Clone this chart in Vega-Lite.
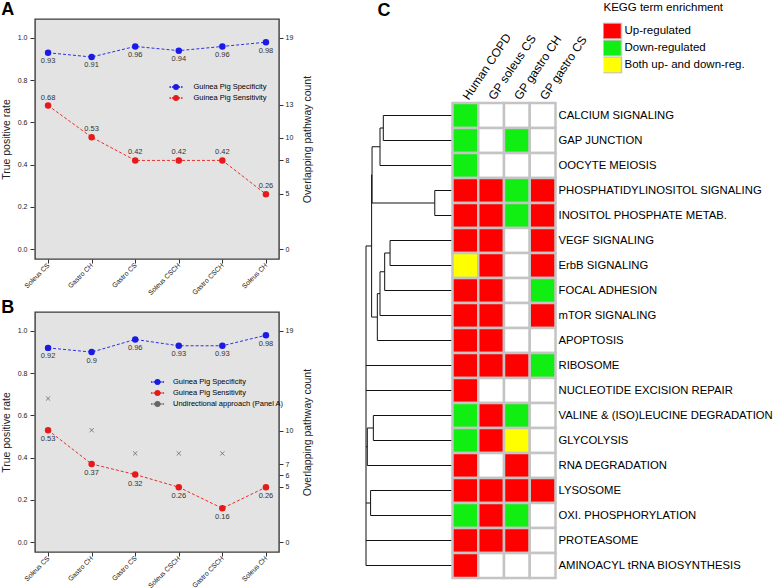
{
  "$schema": "https://vega.github.io/schema/vega-lite/v6.json",
  "background": "white",
  "padding": {"left": 0, "top": 0, "right": 0, "bottom": 0},
  "config": {
    "font": "Liberation Sans",
    "view": {"stroke": null},
    "axis": {"labelColor": "#222", "titleColor": "#222", "tickColor": "#333", "titleFontWeight": "normal", "grid": false},
    "title": {"color": "#000"}
  },
  "datasets": {
    "a": [
      {"cond": "Soleus CS", "s": "Guinea Pig Specificity", "v": 0.93},
      {"cond": "Gastro CH", "s": "Guinea Pig Specificity", "v": 0.91},
      {"cond": "Gastro CS", "s": "Guinea Pig Specificity", "v": 0.96},
      {"cond": "Soleus CSCH", "s": "Guinea Pig Specificity", "v": 0.94},
      {"cond": "Gastro CSCH", "s": "Guinea Pig Specificity", "v": 0.96},
      {"cond": "Soleus CH", "s": "Guinea Pig Specificity", "v": 0.98},
      {"cond": "Soleus CS", "s": "Guinea Pig Sensitivity", "v": 0.68},
      {"cond": "Gastro CH", "s": "Guinea Pig Sensitivity", "v": 0.53},
      {"cond": "Gastro CS", "s": "Guinea Pig Sensitivity", "v": 0.42},
      {"cond": "Soleus CSCH", "s": "Guinea Pig Sensitivity", "v": 0.42},
      {"cond": "Gastro CSCH", "s": "Guinea Pig Sensitivity", "v": 0.42},
      {"cond": "Soleus CH", "s": "Guinea Pig Sensitivity", "v": 0.26}
    ],
    "b": [
      {"cond": "Soleus CS", "s": "Guinea Pig Specificity", "v": 0.92},
      {"cond": "Gastro CH", "s": "Guinea Pig Specificity", "v": 0.9},
      {"cond": "Gastro CS", "s": "Guinea Pig Specificity", "v": 0.96},
      {"cond": "Soleus CSCH", "s": "Guinea Pig Specificity", "v": 0.93},
      {"cond": "Gastro CSCH", "s": "Guinea Pig Specificity", "v": 0.93},
      {"cond": "Soleus CH", "s": "Guinea Pig Specificity", "v": 0.98},
      {"cond": "Soleus CS", "s": "Guinea Pig Sensitivity", "v": 0.53},
      {"cond": "Gastro CH", "s": "Guinea Pig Sensitivity", "v": 0.37},
      {"cond": "Gastro CS", "s": "Guinea Pig Sensitivity", "v": 0.32},
      {"cond": "Soleus CSCH", "s": "Guinea Pig Sensitivity", "v": 0.26},
      {"cond": "Gastro CSCH", "s": "Guinea Pig Sensitivity", "v": 0.16},
      {"cond": "Soleus CH", "s": "Guinea Pig Sensitivity", "v": 0.26},
      {"cond": "Soleus CS", "s": "Undirectional approach (Panel A)", "v": 0.68},
      {"cond": "Gastro CH", "s": "Undirectional approach (Panel A)", "v": 0.53},
      {"cond": "Gastro CS", "s": "Undirectional approach (Panel A)", "v": 0.42},
      {"cond": "Soleus CSCH", "s": "Undirectional approach (Panel A)", "v": 0.42},
      {"cond": "Gastro CSCH", "s": "Undirectional approach (Panel A)", "v": 0.42},
      {"cond": "Soleus CH", "s": "Undirectional approach (Panel A)", "v": 0.26}
    ],
    "dendro": [
      {"h1": 0, "h2": 0.8, "r1": 0, "r2": 0},
      {"h1": 0, "h2": 0.8, "r1": 1, "r2": 1},
      {"h1": 0, "h2": 0.838, "r1": 2, "r2": 2},
      {"h1": 0, "h2": 0.205, "r1": 3, "r2": 3},
      {"h1": 0, "h2": 0.205, "r1": 4, "r2": 4},
      {"h1": 0, "h2": 0.722, "r1": 5, "r2": 5},
      {"h1": 0, "h2": 0.722, "r1": 6, "r2": 6},
      {"h1": 0, "h2": 0.784, "r1": 7, "r2": 7},
      {"h1": 0, "h2": 0.838, "r1": 8, "r2": 8},
      {"h1": 0, "h2": 0.869, "r1": 9, "r2": 9},
      {"h1": 0, "h2": 1, "r1": 10, "r2": 10},
      {"h1": 0, "h2": 1, "r1": 11, "r2": 11},
      {"h1": 0, "h2": 0.915, "r1": 12, "r2": 12},
      {"h1": 0, "h2": 0.915, "r1": 13, "r2": 13},
      {"h1": 0, "h2": 0.985, "r1": 14, "r2": 14},
      {"h1": 0, "h2": 0.947, "r1": 15, "r2": 15},
      {"h1": 0, "h2": 0.947, "r1": 16, "r2": 16},
      {"h1": 0, "h2": 1, "r1": 17, "r2": 17},
      {"h1": 0, "h2": 1, "r1": 18, "r2": 18},
      {"h1": 0.8, "h2": 0.838, "r1": 0.5, "r2": 0.5},
      {"h1": 0.838, "h2": 0.93, "r1": 1.25, "r2": 1.25},
      {"h1": 0.205, "h2": 0.93, "r1": 3.5, "r2": 3.5},
      {"h1": 0.93, "h2": 0.935, "r1": 2.375, "r2": 2.375},
      {"h1": 0.722, "h2": 0.784, "r1": 5.5, "r2": 5.5},
      {"h1": 0.784, "h2": 0.838, "r1": 6.25, "r2": 6.25},
      {"h1": 0.838, "h2": 0.869, "r1": 7.125, "r2": 7.125},
      {"h1": 0.869, "h2": 0.935, "r1": 8.0625, "r2": 8.0625},
      {"h1": 0.935, "h2": 1, "r1": 5.21875, "r2": 5.21875},
      {"h1": 0.915, "h2": 0.985, "r1": 12.5, "r2": 12.5},
      {"h1": 0.985, "h2": 1, "r1": 13.25, "r2": 13.25},
      {"h1": 0.947, "h2": 1, "r1": 15.5, "r2": 15.5},
      {"h1": 0.8, "h2": 0.8, "r1": 0, "r2": 1},
      {"h1": 0.838, "h2": 0.838, "r1": 0.5, "r2": 2},
      {"h1": 0.205, "h2": 0.205, "r1": 3, "r2": 4},
      {"h1": 0.93, "h2": 0.93, "r1": 1.25, "r2": 3.5},
      {"h1": 0.722, "h2": 0.722, "r1": 5, "r2": 6},
      {"h1": 0.784, "h2": 0.784, "r1": 5.5, "r2": 7},
      {"h1": 0.838, "h2": 0.838, "r1": 6.25, "r2": 8},
      {"h1": 0.869, "h2": 0.869, "r1": 7.125, "r2": 9},
      {"h1": 0.935, "h2": 0.935, "r1": 2.375, "r2": 8.0625},
      {"h1": 0.915, "h2": 0.915, "r1": 12, "r2": 13},
      {"h1": 0.985, "h2": 0.985, "r1": 12.5, "r2": 14},
      {"h1": 0.947, "h2": 0.947, "r1": 15, "r2": 16},
      {"h1": 1, "h2": 1, "r1": 5.21875, "r2": 18}
    ],
    "c": [
      {"p": "CALCIUM SIGNALING", "c": "Human COPD", "s": "D"},
      {"p": "CALCIUM SIGNALING", "c": "GP soleus CS", "s": "N"},
      {"p": "CALCIUM SIGNALING", "c": "GP gastro CH", "s": "N"},
      {"p": "CALCIUM SIGNALING", "c": "GP gastro CS", "s": "N"},
      {"p": "GAP JUNCTION", "c": "Human COPD", "s": "D"},
      {"p": "GAP JUNCTION", "c": "GP soleus CS", "s": "N"},
      {"p": "GAP JUNCTION", "c": "GP gastro CH", "s": "D"},
      {"p": "GAP JUNCTION", "c": "GP gastro CS", "s": "N"},
      {"p": "OOCYTE MEIOSIS", "c": "Human COPD", "s": "D"},
      {"p": "OOCYTE MEIOSIS", "c": "GP soleus CS", "s": "N"},
      {"p": "OOCYTE MEIOSIS", "c": "GP gastro CH", "s": "N"},
      {"p": "OOCYTE MEIOSIS", "c": "GP gastro CS", "s": "N"},
      {"p": "PHOSPHATIDYLINOSITOL SIGNALING", "c": "Human COPD", "s": "U"},
      {"p": "PHOSPHATIDYLINOSITOL SIGNALING", "c": "GP soleus CS", "s": "U"},
      {"p": "PHOSPHATIDYLINOSITOL SIGNALING", "c": "GP gastro CH", "s": "D"},
      {"p": "PHOSPHATIDYLINOSITOL SIGNALING", "c": "GP gastro CS", "s": "U"},
      {"p": "INOSITOL PHOSPHATE METAB.", "c": "Human COPD", "s": "U"},
      {"p": "INOSITOL PHOSPHATE METAB.", "c": "GP soleus CS", "s": "U"},
      {"p": "INOSITOL PHOSPHATE METAB.", "c": "GP gastro CH", "s": "D"},
      {"p": "INOSITOL PHOSPHATE METAB.", "c": "GP gastro CS", "s": "U"},
      {"p": "VEGF SIGNALING", "c": "Human COPD", "s": "U"},
      {"p": "VEGF SIGNALING", "c": "GP soleus CS", "s": "U"},
      {"p": "VEGF SIGNALING", "c": "GP gastro CH", "s": "N"},
      {"p": "VEGF SIGNALING", "c": "GP gastro CS", "s": "U"},
      {"p": "ErbB SIGNALING", "c": "Human COPD", "s": "B"},
      {"p": "ErbB SIGNALING", "c": "GP soleus CS", "s": "U"},
      {"p": "ErbB SIGNALING", "c": "GP gastro CH", "s": "N"},
      {"p": "ErbB SIGNALING", "c": "GP gastro CS", "s": "U"},
      {"p": "FOCAL ADHESION", "c": "Human COPD", "s": "U"},
      {"p": "FOCAL ADHESION", "c": "GP soleus CS", "s": "U"},
      {"p": "FOCAL ADHESION", "c": "GP gastro CH", "s": "N"},
      {"p": "FOCAL ADHESION", "c": "GP gastro CS", "s": "D"},
      {"p": "mTOR SIGNALING", "c": "Human COPD", "s": "U"},
      {"p": "mTOR SIGNALING", "c": "GP soleus CS", "s": "U"},
      {"p": "mTOR SIGNALING", "c": "GP gastro CH", "s": "N"},
      {"p": "mTOR SIGNALING", "c": "GP gastro CS", "s": "U"},
      {"p": "APOPTOSIS", "c": "Human COPD", "s": "U"},
      {"p": "APOPTOSIS", "c": "GP soleus CS", "s": "U"},
      {"p": "APOPTOSIS", "c": "GP gastro CH", "s": "N"},
      {"p": "APOPTOSIS", "c": "GP gastro CS", "s": "N"},
      {"p": "RIBOSOME", "c": "Human COPD", "s": "U"},
      {"p": "RIBOSOME", "c": "GP soleus CS", "s": "U"},
      {"p": "RIBOSOME", "c": "GP gastro CH", "s": "U"},
      {"p": "RIBOSOME", "c": "GP gastro CS", "s": "D"},
      {"p": "NUCLEOTIDE EXCISION REPAIR", "c": "Human COPD", "s": "U"},
      {"p": "NUCLEOTIDE EXCISION REPAIR", "c": "GP soleus CS", "s": "N"},
      {"p": "NUCLEOTIDE EXCISION REPAIR", "c": "GP gastro CH", "s": "N"},
      {"p": "NUCLEOTIDE EXCISION REPAIR", "c": "GP gastro CS", "s": "N"},
      {"p": "VALINE & (ISO)LEUCINE DEGRADATION", "c": "Human COPD", "s": "D"},
      {"p": "VALINE & (ISO)LEUCINE DEGRADATION", "c": "GP soleus CS", "s": "U"},
      {"p": "VALINE & (ISO)LEUCINE DEGRADATION", "c": "GP gastro CH", "s": "D"},
      {"p": "VALINE & (ISO)LEUCINE DEGRADATION", "c": "GP gastro CS", "s": "N"},
      {"p": "GLYCOLYSIS", "c": "Human COPD", "s": "D"},
      {"p": "GLYCOLYSIS", "c": "GP soleus CS", "s": "U"},
      {"p": "GLYCOLYSIS", "c": "GP gastro CH", "s": "B"},
      {"p": "GLYCOLYSIS", "c": "GP gastro CS", "s": "N"},
      {"p": "RNA DEGRADATION", "c": "Human COPD", "s": "U"},
      {"p": "RNA DEGRADATION", "c": "GP soleus CS", "s": "N"},
      {"p": "RNA DEGRADATION", "c": "GP gastro CH", "s": "U"},
      {"p": "RNA DEGRADATION", "c": "GP gastro CS", "s": "N"},
      {"p": "LYSOSOME", "c": "Human COPD", "s": "U"},
      {"p": "LYSOSOME", "c": "GP soleus CS", "s": "U"},
      {"p": "LYSOSOME", "c": "GP gastro CH", "s": "U"},
      {"p": "LYSOSOME", "c": "GP gastro CS", "s": "U"},
      {"p": "OXI. PHOSPHORYLATION", "c": "Human COPD", "s": "D"},
      {"p": "OXI. PHOSPHORYLATION", "c": "GP soleus CS", "s": "U"},
      {"p": "OXI. PHOSPHORYLATION", "c": "GP gastro CH", "s": "D"},
      {"p": "OXI. PHOSPHORYLATION", "c": "GP gastro CS", "s": "N"},
      {"p": "PROTEASOME", "c": "Human COPD", "s": "U"},
      {"p": "PROTEASOME", "c": "GP soleus CS", "s": "U"},
      {"p": "PROTEASOME", "c": "GP gastro CH", "s": "U"},
      {"p": "PROTEASOME", "c": "GP gastro CS", "s": "N"},
      {"p": "AMINOACYL tRNA BIOSYNTHESIS", "c": "Human COPD", "s": "U"},
      {"p": "AMINOACYL tRNA BIOSYNTHESIS", "c": "GP soleus CS", "s": "N"},
      {"p": "AMINOACYL tRNA BIOSYNTHESIS", "c": "GP gastro CH", "s": "N"},
      {"p": "AMINOACYL tRNA BIOSYNTHESIS", "c": "GP gastro CS", "s": "N"}
    ]
  },
  "spacing": 51,
  "resolve": {"scale": {"color": "independent"}, "legend": {"color": "independent"}},
  "hconcat": [
    {
      "spacing": 0,
      "resolve": {"scale": {"color": "independent"}, "legend": {"color": "independent"}},
      "vconcat": [
        {
          "width": 244,
          "height": 240,
          "title": {"text": "A", "anchor": "start", "frame": "bounds", "fontSize": 18, "fontWeight": "bold", "offset": 0},
          "view": {"fill": "#e3e3e3", "stroke": "#3c3c3c", "strokeWidth": 1.4},
          "data": {"name": "a"},
          "layer": [
            {
              "mark": {"type": "line", "strokeDash": [3, 2], "strokeWidth": 0.9},
              "encoding": {
                "x": {"field": "cond", "type": "nominal", "sort": ["Soleus CS", "Gastro CH", "Gastro CS", "Soleus CSCH", "Gastro CSCH", "Soleus CH"], "scale": {"type": "point", "padding": 0.3}, "axis": {"title": null, "labelAngle": -45, "labelAlign": "right", "labelBaseline": "middle", "labelFontSize": 6.8, "tickSize": 4, "labelPadding": 1, "domain": false}},
                "y": {"field": "v", "type": "quantitative", "scale": {"domain": [-0.047, 1.09], "nice": false, "zero": false}, "axis": {"orient": "left", "values": [0, 0.2, 0.4, 0.6, 0.8, 1], "format": ".1f", "title": "True positive rate", "titleFontSize": 10.5, "titlePadding": 6, "labelFontSize": 7, "tickSize": 4, "labelPadding": 3, "domain": false, "offset": 1}},
                "color": {"field": "s", "type": "nominal", "scale": {"domain": ["Guinea Pig Specificity", "Guinea Pig Sensitivity"], "range": ["#1a1ae6", "#e61a1a"]}}
              }
            },
            {
              "mark": {"type": "point", "filled": true, "size": 42, "opacity": 1},
              "encoding": {
                "x": {"field": "cond", "type": "nominal", "sort": ["Soleus CS", "Gastro CH", "Gastro CS", "Soleus CSCH", "Gastro CSCH", "Soleus CH"]},
                "y": {"field": "v", "type": "quantitative", "axis": null},
                "color": {"field": "s", "type": "nominal", "scale": {"domain": ["Guinea Pig Specificity", "Guinea Pig Sensitivity"], "range": ["#1a1ae6", "#e61a1a"]},
                  "legend": {"orient": "none", "legendX": 135.5, "legendY": 62.5, "title": null, "padding": 0, "symbolSize": 81, "labelFontSize": 7.5, "labelOffset": 12, "rowPadding": -1, "labelLimit": 300,
                    "symbolType": "M-1.45,0H-1.1M-0.9,0H-0.55M0.55,0H0.9M1.1,0H1.45M-0.5,0A0.5,0.5 0 1 1 0.5,0A0.5,0.5 0 1 1 -0.5,0Z",
                    "encode": {
                      "symbols": {"update": {
                        "shape": {"value": "M-1.45,0H-1.1M-0.9,0H-0.55M0.55,0H0.9M1.1,0H1.45M-0.5,0A0.5,0.5 0 1 1 0.5,0A0.5,0.5 0 1 1 -0.5,0Z"},
                        "fill": {"signal": "datum.value === 'Guinea Pig Specificity' ? '#1a1ae6' : '#e61a1a'"},
                        "stroke": {"signal": "datum.value === 'Guinea Pig Specificity' ? '#1a1ae6' : '#e61a1a'"},
                        "strokeWidth": {"value": 1},
                        "opacity": {"value": 1}
                      }},
                      "labels": {"update": {"fill": {"signal": "datum.value === 'Guinea Pig Specificity' ? '#1a1ae6' : '#e61a1a'"}}}
                    }
                  }
                }
              }
            },
            {
              "transform": [{"filter": "datum.s === 'Guinea Pig Specificity'"}],
              "mark": {"type": "text", "dy": 8.5, "fontSize": 7.5, "color": "#333"},
              "encoding": {
                "x": {"field": "cond", "type": "nominal", "sort": ["Soleus CS", "Gastro CH", "Gastro CS", "Soleus CSCH", "Gastro CSCH", "Soleus CH"]},
                "y": {"field": "v", "type": "quantitative", "axis": {"orient": "right", "values": [0, 0.2631579, 0.4210526, 0.5263158, 0.6842105, 1], "labelExpr": "round(datum.value*19)", "title": "Overlapping pathway count", "titleAngle": 270, "titleBaseline": "top", "titleFontSize": 10.5, "titlePadding": 10, "labelFontSize": 7, "tickSize": 4, "labelPadding": 2, "domain": false}},
                "text": {"field": "v", "type": "nominal"}
              }
            },
            {
              "transform": [{"filter": "datum.s === 'Guinea Pig Sensitivity'"}],
              "mark": {"type": "text", "dy": -8, "fontSize": 7.5, "color": "#333"},
              "encoding": {
                "x": {"field": "cond", "type": "nominal", "sort": ["Soleus CS", "Gastro CH", "Gastro CS", "Soleus CSCH", "Gastro CSCH", "Soleus CH"]},
                "y": {"field": "v", "type": "quantitative", "axis": null},
                "text": {"field": "v", "type": "nominal"}
              }
            }
          ],
          "resolve": {"axis": {"y": "independent"}}
        },
        {
          "width": 244,
          "height": 240,
          "title": {"text": "B", "anchor": "start", "frame": "bounds", "fontSize": 18, "fontWeight": "bold", "offset": -5},
          "view": {"fill": "#e3e3e3", "stroke": "#3c3c3c", "strokeWidth": 1.4},
          "data": {"name": "b"},
          "layer": [
            {
              "transform": [{"filter": "datum.s === 'Undirectional approach (Panel A)'"}],
              "mark": {"type": "point", "shape": "M-1,-1L1,1M-1,1L1,-1", "size": 18, "filled": false, "color": "#666", "strokeWidth": 0.8, "opacity": 1},
              "encoding": {
                "x": {"field": "cond", "type": "nominal", "sort": ["Soleus CS", "Gastro CH", "Gastro CS", "Soleus CSCH", "Gastro CSCH", "Soleus CH"], "scale": {"type": "point", "padding": 0.3}, "axis": {"title": null, "labelAngle": -45, "labelAlign": "right", "labelBaseline": "middle", "labelFontSize": 6.8, "tickSize": 4, "labelPadding": 1, "domain": false}},
                "y": {"field": "v", "type": "quantitative", "scale": {"domain": [-0.047, 1.09], "nice": false, "zero": false}, "axis": {"orient": "left", "values": [0, 0.2, 0.4, 0.6, 0.8, 1], "format": ".1f", "title": "True positive rate", "titleFontSize": 10.5, "titlePadding": 6, "labelFontSize": 7, "tickSize": 4, "labelPadding": 3, "domain": false, "offset": 1}}
              }
            },
            {
              "transform": [{"filter": "datum.s !== 'Undirectional approach (Panel A)'"}],
              "mark": {"type": "line", "strokeDash": [3, 2], "strokeWidth": 0.9},
              "encoding": {
                "x": {"field": "cond", "type": "nominal", "sort": ["Soleus CS", "Gastro CH", "Gastro CS", "Soleus CSCH", "Gastro CSCH", "Soleus CH"]},
                "y": {"field": "v", "type": "quantitative", "axis": null},
                "color": {"field": "s", "type": "nominal", "scale": {"domain": ["Guinea Pig Specificity", "Guinea Pig Sensitivity", "Undirectional approach (Panel A)"], "range": ["#1a1ae6", "#e61a1a", "#666666"]}}
              }
            },
            {
              "transform": [{"filter": "datum.s !== 'Undirectional approach (Panel A)'"}],
              "mark": {"type": "point", "filled": true, "size": 42, "opacity": 1},
              "encoding": {
                "x": {"field": "cond", "type": "nominal", "sort": ["Soleus CS", "Gastro CH", "Gastro CS", "Soleus CSCH", "Gastro CSCH", "Soleus CH"]},
                "y": {"field": "v", "type": "quantitative", "axis": null},
                "color": {"field": "s", "type": "nominal", "scale": {"domain": ["Guinea Pig Specificity", "Guinea Pig Sensitivity", "Undirectional approach (Panel A)"], "range": ["#1a1ae6", "#e61a1a", "#666666"]},
                  "legend": {"orient": "none", "legendX": 117, "legendY": 64.5, "title": null, "padding": 0, "symbolSize": 81, "labelFontSize": 7.5, "labelOffset": 10, "rowPadding": -1, "labelLimit": 300,
                    "symbolType": "M-1.45,0H-1.1M-0.9,0H-0.55M0.55,0H0.9M1.1,0H1.45M-0.5,0A0.5,0.5 0 1 1 0.5,0A0.5,0.5 0 1 1 -0.5,0Z",
                    "encode": {
                      "symbols": {"update": {
                        "shape": {"signal": "datum.value === 'Undirectional approach (Panel A)' ? 'M-0.45,-0.45L0.45,0.45M-0.45,0.45L0.45,-0.45' : 'M-1.45,0H-1.1M-0.9,0H-0.55M0.55,0H0.9M1.1,0H1.45M-0.5,0A0.5,0.5 0 1 1 0.5,0A0.5,0.5 0 1 1 -0.5,0Z'"},
                        "fill": {"signal": "datum.value === 'Guinea Pig Specificity' ? '#1a1ae6' : datum.value === 'Guinea Pig Sensitivity' ? '#e61a1a' : 'transparent'"},
                        "stroke": {"signal": "datum.value === 'Guinea Pig Specificity' ? '#1a1ae6' : datum.value === 'Guinea Pig Sensitivity' ? '#e61a1a' : '#555555'"},
                        "strokeWidth": {"value": 1},
                        "opacity": {"value": 1}
                      }},
                      "labels": {"update": {"fill": {"signal": "datum.value === 'Guinea Pig Specificity' ? '#1a1ae6' : datum.value === 'Guinea Pig Sensitivity' ? '#e61a1a' : '#222222'"}}}
                    }
                  }
                }
              }
            },
            {
              "transform": [{"filter": "datum.s === 'Guinea Pig Specificity'"}],
              "mark": {"type": "text", "dy": 8.5, "fontSize": 7.5, "color": "#333"},
              "encoding": {
                "x": {"field": "cond", "type": "nominal", "sort": ["Soleus CS", "Gastro CH", "Gastro CS", "Soleus CSCH", "Gastro CSCH", "Soleus CH"]},
                "y": {"field": "v", "type": "quantitative", "axis": {"orient": "right", "values": [0, 0.2631579, 0.3157895, 0.3684211, 0.5263158, 1], "labelExpr": "round(datum.value*19)", "title": "Overlapping pathway count", "titleAngle": 270, "titleBaseline": "top", "titleFontSize": 10.5, "titlePadding": 10, "labelFontSize": 7, "tickSize": 4, "labelPadding": 2, "domain": false}},
                "text": {"field": "v", "type": "nominal"}
              }
            },
            {
              "transform": [{"filter": "datum.s === 'Guinea Pig Sensitivity'"}],
              "mark": {"type": "text", "dy": 9, "fontSize": 7.5, "color": "#333"},
              "encoding": {
                "x": {"field": "cond", "type": "nominal", "sort": ["Soleus CS", "Gastro CH", "Gastro CS", "Soleus CSCH", "Gastro CSCH", "Soleus CH"]},
                "y": {"field": "v", "type": "quantitative", "axis": null},
                "text": {"field": "v", "type": "nominal"}
              }
            }
          ],
          "resolve": {"axis": {"y": "independent"}}
        }
      ]
    },
    {
      "width": 190,
      "height": 559,
      "title": {"text": "C", "anchor": "start", "dx": 12, "fontSize": 18, "fontWeight": "bold", "offset": -18},
      "layer": [
        {
          "data": {"name": "dendro"},
          "mark": {"type": "rule", "color": "#111", "strokeWidth": 1},
          "encoding": {
            "x": {"field": "h1", "type": "quantitative", "scale": {"domain": [0, 1], "range": [86.5, 0], "nice": false, "zero": false}, "axis": null},
            "x2": {"field": "h2"},
            "y": {"field": "r1", "type": "quantitative", "scale": {"domain": [-0.5, 18.5], "range": [84, 559], "nice": false, "zero": false}, "axis": null},
            "y2": {"field": "r2"}
          }
        },
        {
          "data": {"name": "c"},
          "mark": {"type": "rect", "stroke": "#c4c4c4", "strokeWidth": 2.5},
          "encoding": {
            "x": {"field": "c", "type": "nominal", "sort": ["Human COPD", "GP soleus CS", "GP gastro CH", "GP gastro CS"], "scale": {"range": [86.5, 189.5], "paddingInner": 0, "paddingOuter": 0},
              "axis": {"orient": "top", "offset": -84, "title": null, "labelAngle": -56, "labelAlign": "left", "labelBaseline": "middle", "labelFontSize": 12, "labelColor": "#000", "ticks": false, "domain": false, "labelPadding": 5}},
            "y": {"field": "p", "type": "nominal", "sort": ["CALCIUM SIGNALING", "GAP JUNCTION", "OOCYTE MEIOSIS", "PHOSPHATIDYLINOSITOL SIGNALING", "INOSITOL PHOSPHATE METAB.", "VEGF SIGNALING", "ErbB SIGNALING", "FOCAL ADHESION", "mTOR SIGNALING", "APOPTOSIS", "RIBOSOME", "NUCLEOTIDE EXCISION REPAIR", "VALINE & (ISO)LEUCINE DEGRADATION", "GLYCOLYSIS", "RNA DEGRADATION", "LYSOSOME", "OXI. PHOSPHORYLATION", "PROTEASOME", "AMINOACYL tRNA BIOSYNTHESIS"], "scale": {"range": [84, 559], "paddingInner": 0, "paddingOuter": 0},
              "axis": {"orient": "right", "title": null, "labelFontSize": 11.3, "labelColor": "#000", "ticks": false, "domain": false, "labelPadding": 2, "labelLimit": 400}},
            "color": {"field": "s", "type": "nominal", "scale": {"domain": ["U", "D", "B", "N"], "range": ["#ff0000", "#11ee11", "#ffff00", "#ffffff"]},
              "legend": {"orient": "none", "legendX": 237.5, "legendY": -17, "title": "KEGG term enrichment", "titleFontSize": 11.5, "titleFontWeight": "normal", "titleColor": "#000", "titlePadding": 9, "titleLimit": 300, "labelFontSize": 11.5, "labelColor": "#000", "labelLimit": 300, "symbolSize": 100, "rowPadding": 0, "clipHeight": 17, "labelOffset": 9, "padding": 0, "values": ["U", "D", "B"],
                "labelExpr": "datum.label === 'U' ? 'Up-regulated' : datum.label === 'D' ? 'Down-regulated' : 'Both up- and down-reg.'",
                "symbolType": "M-2.4,-1.6H2.4V1.6H-2.4Z",
                "encode": {"symbols": {"update": {
                  "shape": {"value": "M-2.4,-1.6H2.4V1.6H-2.4Z"},
                  "fill": {"signal": "datum.value === 'U' ? '#ff0000' : datum.value === 'D' ? '#33cc33' : '#ffff00'"},
                  "stroke": {"value": "#bbbbbb"},
                  "strokeWidth": {"value": 1},
                  "opacity": {"value": 1}
                }}}
              }
            }
          }
        }
      ],
      "resolve": {"scale": {"x": "independent", "y": "independent", "color": "independent"}}
    }
  ]
}
